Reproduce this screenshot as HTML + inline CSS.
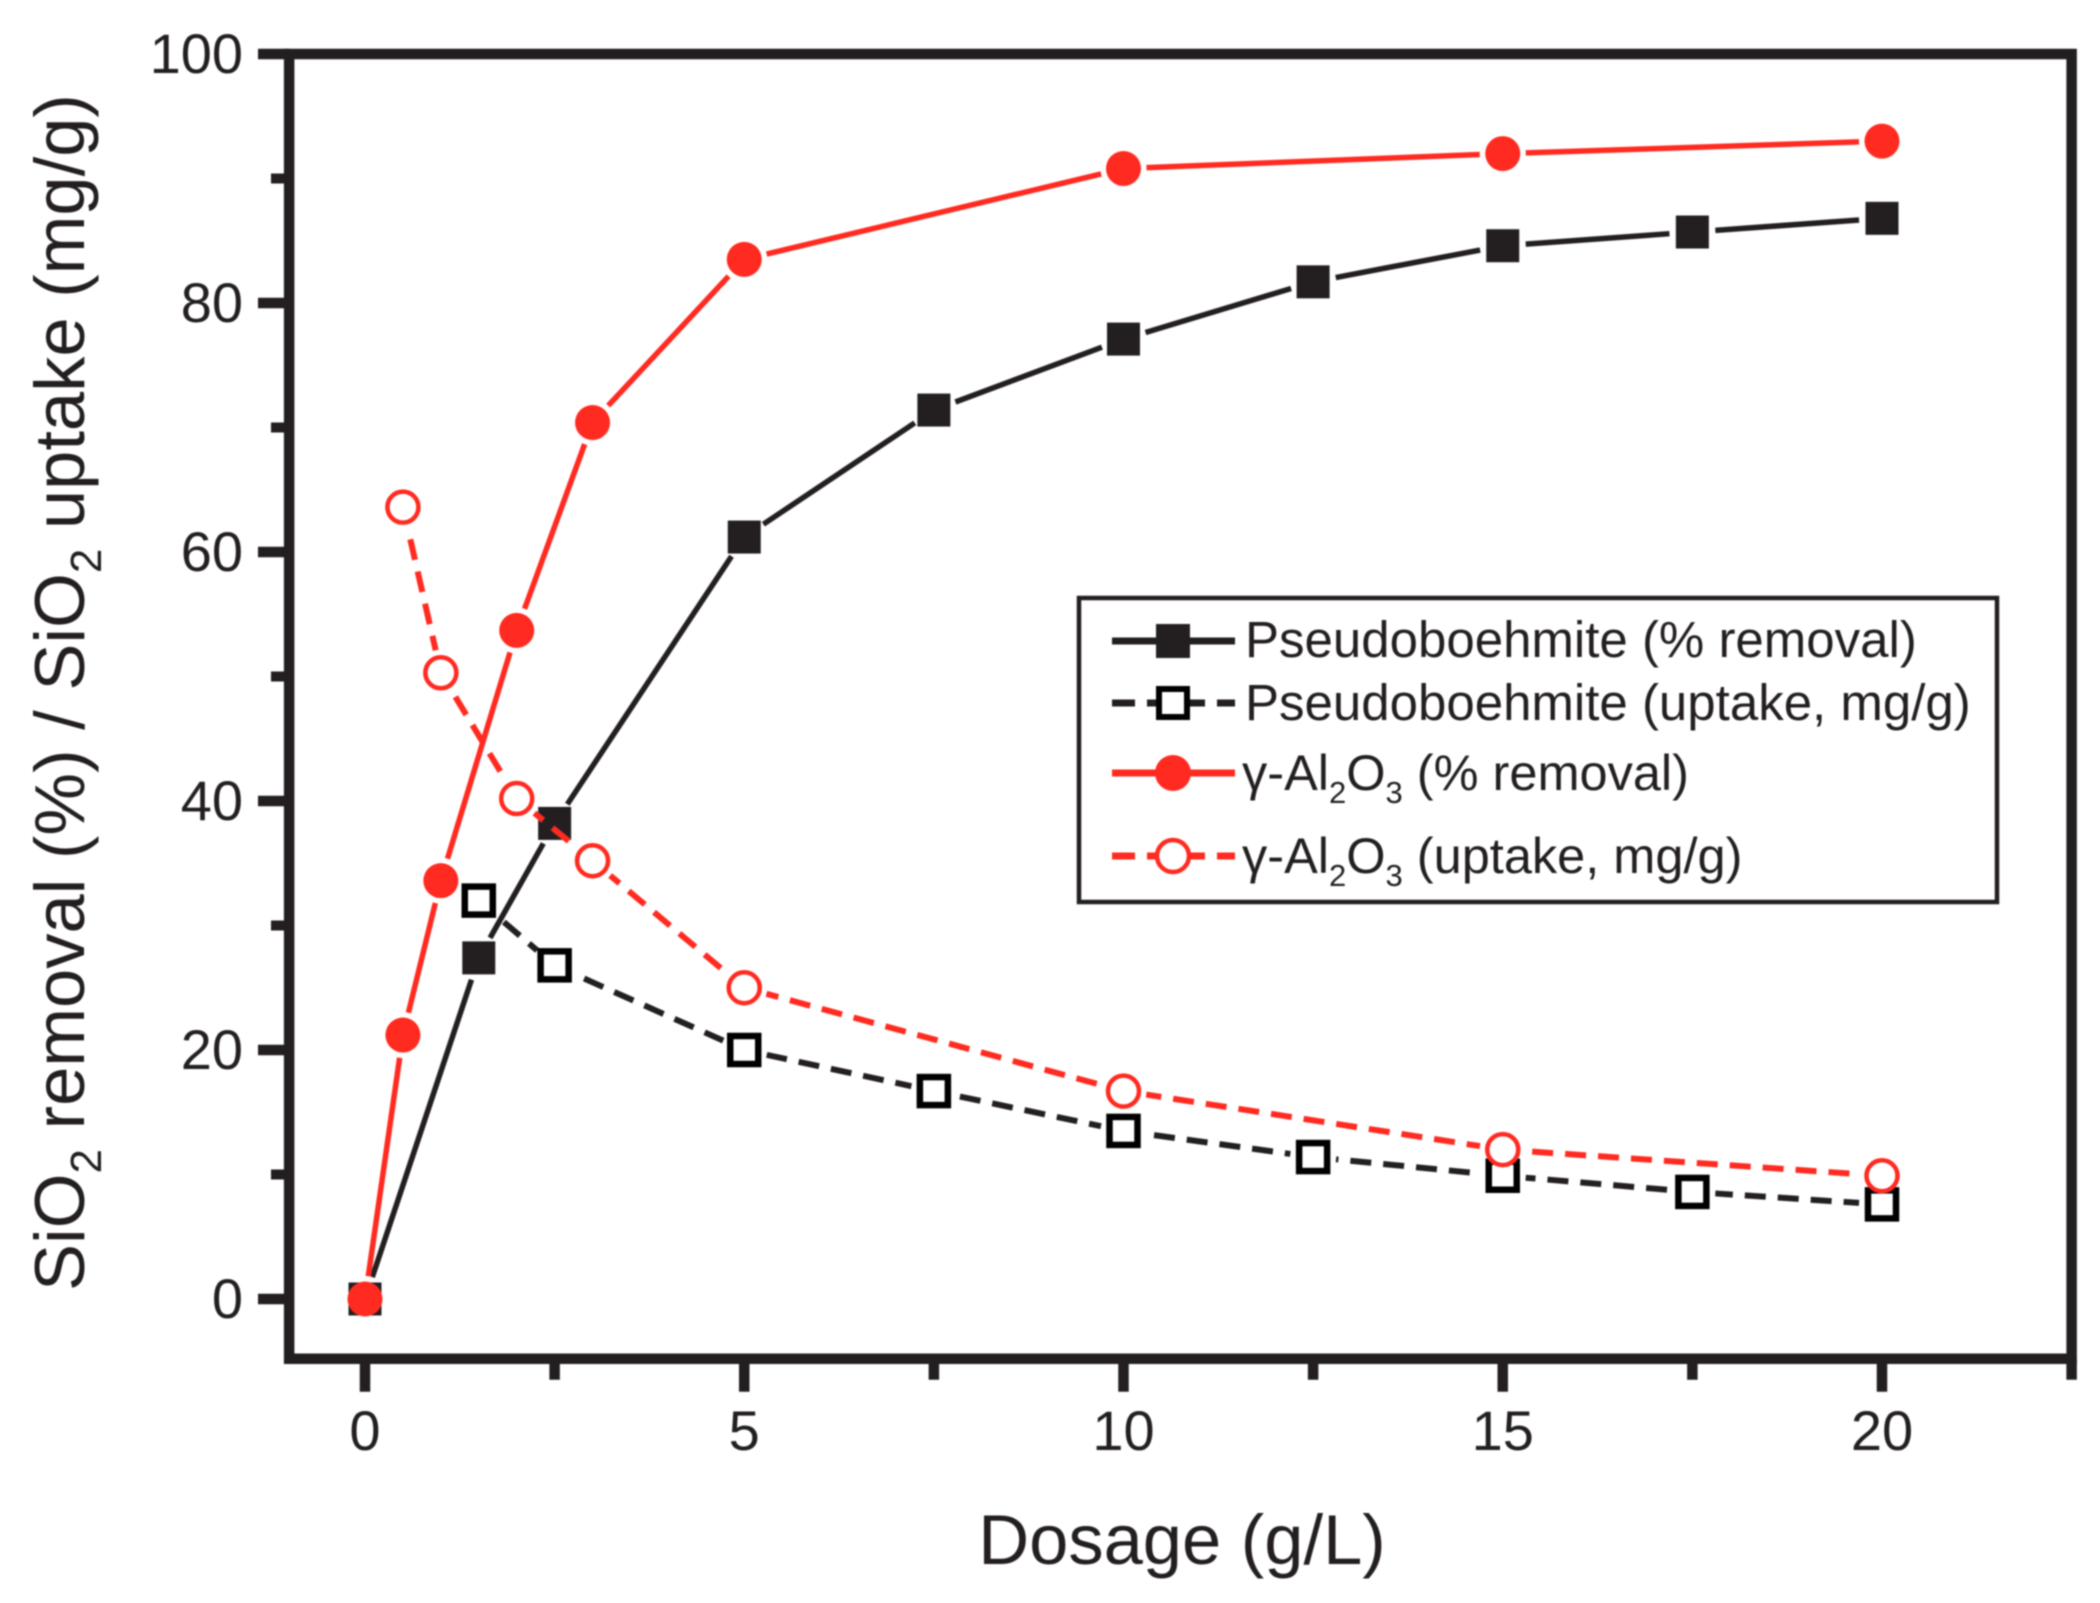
<!DOCTYPE html>
<html lang="en">
<head>
<meta charset="utf-8">
<title>SiO2 removal and uptake vs dosage</title>
<style>
  html, body { margin: 0; padding: 0; background: #fff; }
  svg { display: block; filter: blur(0.9px); }
  text { font-family: "Liberation Sans", sans-serif; fill: #231f20; }
</style>
</head>
<body>
<svg id="chart" xmlns="http://www.w3.org/2000/svg" width="2100" height="1603" viewBox="0 0 2100 1603">
  <rect x="0" y="0" width="2100" height="1603" fill="#fff"/>
  <g id="axes"></g>
  <g id="series"></g>
  <text x="1182" y="1564" font-size="70.5" text-anchor="middle">Dosage (g/L)</text>
  <text transform="translate(84 1291) rotate(-90)" font-size="70.5">SiO<tspan font-size="44" dy="17">2</tspan><tspan dy="-17"> removal (%) / SiO</tspan><tspan font-size="44" dy="17">2</tspan><tspan dy="-17"> uptake (mg/g)</tspan></text>
  <g id="legend">
    <rect x="1079" y="598" width="918" height="304" fill="#fff" stroke="#231f20" stroke-width="4.5"/>
    <g>
      <line x1="1112" y1="641" x2="1235" y2="641" stroke="#231f20" stroke-width="7"/>
      <rect x="1156" y="624" width="34" height="34" fill="#231f20"/>
      <text x="1245" y="657" font-size="51">Pseudoboehmite (% removal)</text>
    </g>
    <g>
      <line x1="1112" y1="703" x2="1235" y2="703" stroke="#231f20" stroke-width="7" stroke-dasharray="23 12"/>
      <rect x="1159" y="689" width="28" height="28" fill="#fff" stroke="#000" stroke-width="6"/>
      <text x="1245" y="720" font-size="51">Pseudoboehmite (uptake, mg/g)</text>
    </g>
    <g>
      <line x1="1112" y1="773" x2="1235" y2="773" stroke="#ff2a20" stroke-width="7"/>
      <circle cx="1173" cy="773" r="18" fill="#ff2a20"/>
      <text x="1242" y="790" font-size="50.5">γ-Al<tspan font-size="31" dy="13">2</tspan><tspan dy="-13">O</tspan><tspan font-size="31" dy="13">3</tspan><tspan dy="-13"> (% removal)</tspan></text>
    </g>
    <g>
      <line x1="1112" y1="856" x2="1235" y2="856" stroke="#ff2a20" stroke-width="7" stroke-dasharray="23 12"/>
      <circle cx="1173" cy="856" r="16" fill="#fff" stroke="#ff2a20" stroke-width="4.5"/>
      <text x="1242" y="873" font-size="50.5">γ-Al<tspan font-size="31" dy="13">2</tspan><tspan dy="-13">O</tspan><tspan font-size="31" dy="13">3</tspan><tspan dy="-13"> (uptake, mg/g)</tspan></text>
    </g>
  </g>
</svg>
<script>
var xMajorTicks = [0, 5, 10, 15, 20];
var xMinorTicks = [2.5, 7.5, 12.5, 17.5, 22.5];
var yMajorTicks = [0, 20, 40, 60, 80, 100];
var yMinorTicks = [10, 30, 50, 70, 90];
var pseudoRemovalX = [0, 1.5, 2.5, 5, 7.5, 10, 12.5, 15, 17.5, 20];
var pseudoRemovalY = [0, 27.4, 38.2, 61.2, 71.4, 77.1, 81.7, 84.6, 85.7, 86.8];
var pseudoUptakeX = [1.5, 2.5, 5, 7.5, 10, 12.5, 15, 17.5, 20];
var pseudoUptakeY = [32, 26.8, 20, 16.7, 13.5, 11.4, 9.9, 8.6, 7.6];
var gammaRemovalX = [0, 0.5, 1, 2, 3, 5, 10, 15, 20];
var gammaRemovalY = [0, 21.2, 33.6, 53.7, 70.4, 83.5, 90.8, 92, 93];
var gammaUptakeX = [0.5, 1, 2, 3, 5, 10, 15, 20];
var gammaUptakeY = [63.6, 50.3, 40.2, 35.2, 25, 16.7, 12, 9.9];

var NS = 'http://www.w3.org/2000/svg';
var INK = '#231f20';
var RED = '#ff2a20';
var axesGroup = document.getElementById('axes');
var seriesGroup = document.getElementById('series');

function xScale(v) { return 365 + 75.85 * v; }
function yScale(v) { return 1299 - 12.45 * v; }

function make(tag, attrs, parent) {
  var el = document.createElementNS(NS, tag);
  for (var k in attrs) { el.setAttribute(k, attrs[k]); }
  parent.appendChild(el);
  return el;
}

function drawAxes() {
  var left = xScale(-1), right = xScale(22.5), top = yScale(100), bottom = yScale(-4.8);
  var el;
  xMajorTicks.forEach(function (t) {
    el = make('line', { x1: xScale(t), x2: xScale(t), y1: bottom, y2: bottom + 33, stroke: INK, 'stroke-width': 10.5 }, axesGroup);
    
    
    el = make('text', { x: xScale(t), y: 1450, 'font-size': 56, 'text-anchor': 'middle' }, axesGroup);
    
    
    el.textContent = t;
  });
  xMinorTicks.forEach(function (t) {
    el = make('line', { x1: xScale(t), x2: xScale(t), y1: bottom, y2: bottom + 21, stroke: INK, 'stroke-width': 10.5 }, axesGroup);
    
    
  });
  yMajorTicks.forEach(function (t) {
    el = make('line', { x1: 258, x2: left, y1: yScale(t), y2: yScale(t), stroke: INK, 'stroke-width': 10.5 }, axesGroup);
    
    
    el = make('text', { x: 243, y: yScale(t) + 19, 'font-size': 56, 'text-anchor': 'end' }, axesGroup);
    
    
    el.textContent = t;
  });
  yMinorTicks.forEach(function (t) {
    el = make('line', { x1: 271, x2: left, y1: yScale(t), y2: yScale(t), stroke: INK, 'stroke-width': 10 }, axesGroup);
    
    
  });
  el = make('rect', { x: left, y: top, width: right - left, height: bottom - top, fill: 'none', stroke: INK, 'stroke-width': 10.5 }, axesGroup);
  
  
}

function drawLine(xs, ys, color, dashed, name) {
  var gap = 23, travelled = 0;
  for (var i = 0; i < xs.length - 1; i++) {
    var x1 = xScale(xs[i]), y1 = yScale(ys[i]), x2 = xScale(xs[i + 1]), y2 = yScale(ys[i + 1]);
    var len = Math.sqrt((x2 - x1) * (x2 - x1) + (y2 - y1) * (y2 - y1));
    if (len > 2 * gap) {
      var ux = (x2 - x1) / len, uy = (y2 - y1) / len;
      var attrs = { x1: x1 + ux * gap, y1: y1 + uy * gap, x2: x2 - ux * gap, y2: y2 - uy * gap, stroke: color, 'stroke-width': dashed ? 6 : 5.5 };
      if (dashed) {
        attrs['stroke-dasharray'] = '21 12';
        attrs['stroke-dashoffset'] = travelled + gap;
      }
      var seg = make('line', attrs, seriesGroup);
      
      
    }
    travelled += len;
  }
}

function drawSquares(xs, ys, filled, name) {
  xs.forEach(function (v, i) {
    var size = filled ? 33 : 28;
    var mark = make('rect', {
      x: xScale(v) - size / 2, y: yScale(ys[i]) - size / 2, width: size, height: size,
      fill: filled ? INK : '#fff', stroke: filled ? 'none' : '#000', 'stroke-width': filled ? 0 : 6.5
    }, seriesGroup);
    
    
  });
}

function drawCircles(xs, ys, filled, name) {
  xs.forEach(function (v, i) {
    var mark = make('circle', {
      cx: xScale(v), cy: yScale(ys[i]), r: filled ? 17.5 : 15.5,
      fill: filled ? RED : '#fff', stroke: filled ? 'none' : RED, 'stroke-width': filled ? 0 : 4.5
    }, seriesGroup);
    
    
  });
}

drawAxes();
drawLine(pseudoRemovalX, pseudoRemovalY, INK, false, 'pseudoboehmite-removal');
drawSquares(pseudoRemovalX, pseudoRemovalY, true, 'pseudoboehmite-removal');
drawLine(pseudoUptakeX, pseudoUptakeY, INK, true, 'pseudoboehmite-uptake');
drawSquares(pseudoUptakeX, pseudoUptakeY, false, 'pseudoboehmite-uptake');
drawLine(gammaRemovalX, gammaRemovalY, RED, false, 'gamma-alumina-removal');
drawCircles(gammaRemovalX, gammaRemovalY, true, 'gamma-alumina-removal');
drawLine(gammaUptakeX, gammaUptakeY, RED, true, 'gamma-alumina-uptake');
drawCircles(gammaUptakeX, gammaUptakeY, false, 'gamma-alumina-uptake');
</script>
</body>
</html>
